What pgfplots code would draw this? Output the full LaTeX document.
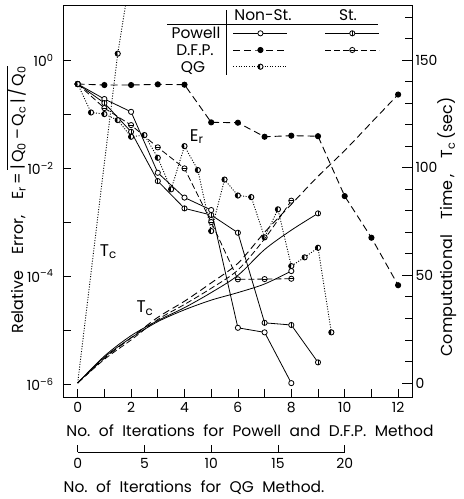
\documentclass[border=0pt]{standalone}
\usepackage{fontspec}
\setmainfont{Poppins}
\usepackage{pgfplots}
\pgfplotsset{compat=1.18}
\usetikzlibrary{plotmarks}

\pgfdeclareplotmark{obar}{%
  \pgfpathcircle{\pgfpointorigin}{\pgfplotmarksize}%
  \pgfusepathqfillstroke
  \pgfpathmoveto{\pgfpoint{0pt}{-\pgfplotmarksize}}%
  \pgfpathlineto{\pgfpoint{0pt}{\pgfplotmarksize}}%
  \pgfusepathqstroke}
\pgfdeclareplotmark{ohbar}{%
  \pgfpathcircle{\pgfpointorigin}{\pgfplotmarksize}%
  \pgfusepathqfillstroke
  \pgfpathmoveto{\pgfpoint{-\pgfplotmarksize}{0pt}}%
  \pgfpathlineto{\pgfpoint{\pgfplotmarksize}{0pt}}%
  \pgfusepathqstroke}

\tikzset{
  pns/.style={black, line width=0.8bp, mark=*, mark size=2.6bp, mark options={solid, fill=white}},
  pst/.style={black, line width=0.8bp, mark=obar, mark size=2.6bp, mark options={solid, fill=white}},
  dns/.style={black, line width=0.9bp, dash pattern=on 7bp off 4bp, mark=*, mark size=2.6bp, mark options={solid, fill=black}},
  dst/.style={black, line width=0.8bp, dash pattern=on 6bp off 3bp, mark=ohbar, mark size=2.6bp, mark options={solid, fill=white}},
  qgs/.style={black, line width=0.9bp, dash pattern=on 1bp off 1.6bp, mark=halfcircle*, mark size=2.6bp, mark options={solid, fill=black, rotate=90}},
}
\newcommand{\gap}{\hspace{0.55em}}

\begin{document}
\begin{tikzpicture}[font=\fontsize{15.5}{18}\selectfont]
% ---------------- relative error (log axis) ----------------
\begin{axis}[
  at={(0,0)}, anchor=south west, scale only axis,
  width=349bp, height=392bp,
  xmin=-0.55, xmax=12.52,
  ymode=log, ymin=5.75e-7, ymax=10.47,
  axis line style={line width=0.8bp},
  tick style={black, line width=0.8bp},
  tick align=inside, major tick length=8bp,
  xtick pos=bottom, ytick pos=left,
  xtick={0,1,2,3,4,5,6,7,8,9,10,11,12},
  xticklabels={0,,2,,4,,6,,8,,10,,12},
  ytick={1e-6,1e-5,1e-4,1e-3,1e-2,1e-1,1},
  yticklabels={10\textsuperscript{–6},,10\textsuperscript{–4},,10\textsuperscript{–2},,10\textsuperscript{0}},
  minor y tick style={draw=none},
  ticklabel style={font=\fontsize{14}{16}\selectfont},
  yticklabel style={xshift=-6bp},
  xticklabel style={yshift=-2bp},
  legend columns=2,
  legend style={draw=none, fill=none, at={(0.4871,0.9491)}, anchor=north west,
    inner sep=0pt, outer sep=0pt, row sep=0pt, column sep=0pt,
    nodes={inner sep=0pt, minimum height=16.7bp},
    /tikz/every even column/.append style={column sep=36bp}},
  legend image code/.code={\draw[mark repeat=2, mark phase=2, #1] plot coordinates {(0bp,0bp) (27bp,0bp) (54bp,0bp)};},
]
\addplot[pns] coordinates {(0,0.36) (1,0.19) (2,0.11) (3,0.00818) (4,0.00284) (5,0.00167) (6,1.10e-5) (7,9.06e-6) (8,1.04e-6)};
\addlegendentry{}
\addplot[pst] coordinates {(0,0.36) (1,0.16) (2,0.047) (3,0.00574) (4,0.00179) (5,0.00135) (6,6.34e-4) (7,1.36e-5) (8,1.24e-5) (9,2.52e-6)};
\addlegendentry{}
\addplot[dns] coordinates {(0,0.36) (1,0.345) (2,0.345) (3,0.355) (4,0.35) (5,0.0702) (6,0.0692) (7,0.038) (8,0.0398) (9,0.0389) (10,0.00302) (11,5.13e-4) (12,6.76e-5)};
\addlegendentry{}
\addplot[dst] coordinates {(0,0.36) (1,0.129) (2,0.0625) (3,0.0242) (4,0.00986) (5,0.001) (6,8.69e-5) (7,8.79e-5) (8,8.91e-5)};
\addlegendentry{}
\addplot[qgs] table[x expr=\thisrow{q}/2, y=E] {
q E
0 0.36
1 0.107
2 0.1
3 0.0774
4 0.038
5 0.0408
6 0.0155
7 0.00404
8 0.0255
9 0.00918
10 6.81e-4
11 0.00612
12 0.0031
13 0.0029
14 5.21e-4
15 0.00172
16 1.53e-4
17 2.22e-4
18 3.34e-4
19 9.06e-6
};
\addlegendentry{}
\end{axis}
% ---------------- computational time (linear axis) ----------------
\begin{axis}[
  at={(0,0)}, anchor=south west, scale only axis,
  width=349bp, height=392bp,
  xmin=-0.55, xmax=12.52, ymin=-6.5, ymax=175.6,
  axis x line=none, axis y line*=right,
  axis line style={line width=0.8bp, -},
  tick style={black, line width=0.8bp},
  tick align=inside, major tick length=10bp, minor tick length=7bp,
  ytick={0,50,100,150}, yticklabels={0,50,100,150},
  minor ytick={10,20,30,40,60,70,80,90,110,120,130,140,160,170},
  ticklabel style={font=\fontsize{14}{16}\selectfont},
]
\addplot[pns, smooth, mark indices={9}] coordinates {(0,0) (1,12) (2,21) (3,28.5) (4,34) (5,38.5) (6,42) (7,46) (8,52)};
\addplot[pst, smooth, mark indices={10}] coordinates {(0,0) (1,12.5) (2,22) (3,29) (4,35) (5,42) (6,50) (7,62) (8,71) (9,78.8)};
\addplot[dst, smooth, mark indices={9}] coordinates {(0,0) (1,11) (2,20) (3,29.5) (4,36.5) (5,44) (6,52.5) (7,67) (8,84.7)};
\addplot[dns, smooth, mark indices={13}] coordinates {(0,0) (1,11.5) (2,21) (3,30.5) (4,38) (5,46.5) (6,55.6) (7,70) (8,83) (9,96) (10,108) (11,121) (12,134)};
% QG computing time, plotted against QG iterations / 2
\addplot[qgs, mark indices={3}] coordinates {(0,0) (0.83,85) (1.5,153) (1.85,180)};
\end{axis}
% ---------------- QG iteration scale ----------------
\begin{axis}[
  at={(14.7bp,-55bp)}, anchor=south west, scale only axis,
  width=267bp, height=5bp,
  xmin=0, xmax=20, ymin=0, ymax=1,
  axis x line=bottom, axis y line=none,
  axis line style={line width=0.8bp, -},
  tick style={black, line width=0.8bp},
  tick align=inside, major tick length=7bp,
  xtick={0,5,10,15,20}, xticklabels={0,5,10,15,20},
  ticklabel style={font=\fontsize{14}{16}\selectfont},
  xticklabel style={yshift=-3bp},
]
\end{axis}
% ---------------- texts ----------------
\node at (187bp,-34bp) {No.\gap of\gap Iterations\gap for\gap Powell\gap and\gap D.F.P.\gap Method};
\node at (131bp,-91bp) {No.\gap of\gap Iterations\gap for\gap QG\gap Method.};
\node[rotate=90, font=\fontsize{16}{18}\selectfont] at (-47bp,197bp) {Relative\hspace{1em}Error,\hspace{1em}E\textsubscript{r}\,=\,$\overline{\hbox{|\,Q\textsubscript{0}\,–\,Q\textsubscript{c}\,|\,/\,Q\textsubscript{0}}}$};
\node[rotate=90, font=\fontsize{16}{18}\selectfont] at (384bp,170bp) {Computational\hspace{1em}Time\,,\hspace{1em}T\textsubscript{c}\,(sec)};
\node[font=\fontsize{17}{19}\selectfont] at (133.7bp,260.3bp) {E\textsubscript{r}};
\node[font=\fontsize{17}{19}\selectfont] at (45.3bp,145.3bp) {T\textsubscript{c}};
\node[font=\fontsize{17}{19}\selectfont] at (82bp,88.7bp) {T\textsubscript{c}};
% legend table frame
\draw[line width=0.8bp] (163bp,322bp) -- (163bp,387bp);
\draw[line width=0.8bp] (104bp,373bp) -- (315bp,373bp);
\node at (200bp,382bp) {Non-St.};
\node at (285bp,382bp) {St.};
\node at (133bp,363.7bp) {Powell};
\node at (132bp,347bp) {D.F.P.};
\node at (130bp,329bp) {QG};
\pgfresetboundingbox
\path[use as bounding box] (-63bp,-102bp) rectangle (401bp,397bp);
\end{tikzpicture}
\end{document}
